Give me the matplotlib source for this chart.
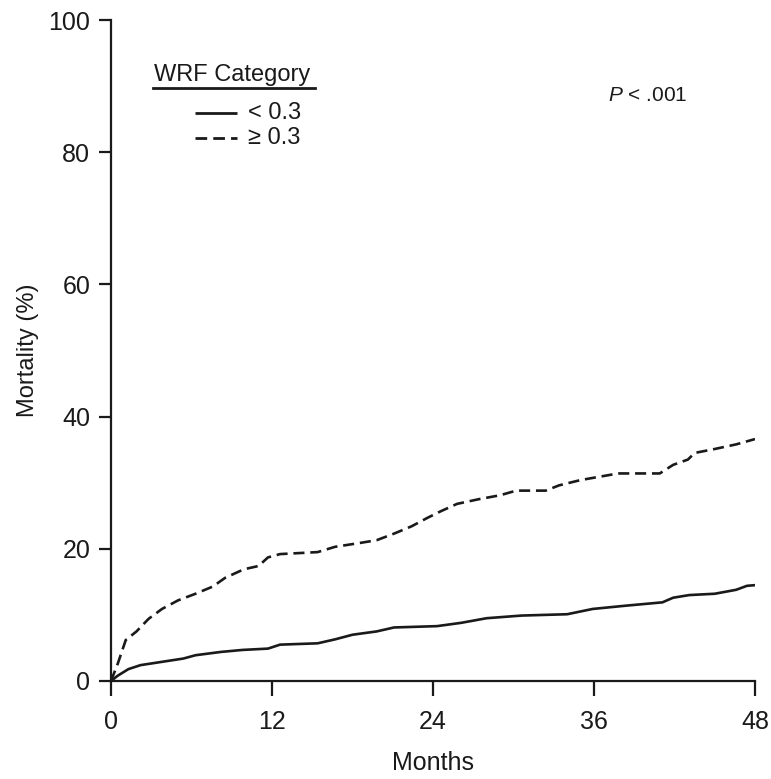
import matplotlib
matplotlib.use("Agg")
import matplotlib.pyplot as plt

plt.rcParams['font.family'] = ['Liberation Sans', 'DejaVu Sans']
plt.rcParams['mathtext.fontset'] = 'custom'
plt.rcParams['mathtext.it'] = 'Liberation Sans:italic'
plt.rcParams['mathtext.rm'] = 'Liberation Sans'

# Data
months_high = [0, 0.5, 1.1, 1.9, 2.8, 3.8, 5.0, 6.3, 7.6, 8.5, 9.9, 11.0, 11.7, 12.6, 15.4,
               16.7, 18.6, 19.8, 21.1, 22.4, 23.6, 24.6, 25.8, 27.4, 29.0, 30.2, 32.4, 33.4,
               35.0, 36.4, 37.8, 40.9, 41.9, 43.0, 43.5, 45.0, 46.6, 48.0]
mort_high = [0, 2.6, 6.2, 7.5, 9.4, 10.9, 12.2, 13.2, 14.3, 15.6, 16.9, 17.4, 18.7, 19.2, 19.5,
             20.3, 20.9, 21.3, 22.3, 23.4, 24.7, 25.7, 26.8, 27.5, 28.1, 28.8, 28.8, 29.6,
             30.4, 30.9, 31.4, 31.4, 32.7, 33.5, 34.5, 35.1, 35.8, 36.6]
months_low = [0, 0.5, 1.3, 2.2, 3.8, 5.4, 6.3, 8.2, 9.8, 11.7, 12.6, 15.4, 16.7, 18.0, 19.8,
              21.1, 24.3, 26.1, 28.0, 30.6, 34.0, 35.9, 38.4, 41.1, 41.9, 43.1, 45.0, 46.6,
              47.4, 48.0]
mort_low = [0, 0.8, 1.8, 2.4, 2.9, 3.4, 3.9, 4.4, 4.7, 4.9, 5.5, 5.7, 6.3, 7.0, 7.5,
            8.1, 8.3, 8.8, 9.5, 9.9, 10.1, 10.9, 11.4, 11.9, 12.6, 13.0, 13.2, 13.8,
            14.4, 14.5]
x_ticks = [0, 12, 24, 36, 48]
y_ticks = [0, 20, 40, 60, 80, 100]
legend_title = "WRF Category"
legend_labels = ["< 0.3", "\u2265 0.3"]

fig = plt.figure(figsize=(7.71, 7.79), dpi=100)
ax = fig.add_axes([111/771, 1-681/779, 644/771, 661/779])

col = '#1a1a1a'
dash = (4.2, 2.2)
ax.plot(months_low, mort_low, color=col, lw=1.9, solid_capstyle='butt')
ax.plot(months_high, mort_high, color=col, lw=1.9, dashes=dash)

ax.set_xlim(0, 48)
ax.set_ylim(0, 100)
ax.set_xticks(x_ticks)
ax.set_yticks(y_ticks)
for s in ['top', 'right']:
    ax.spines[s].set_visible(False)
for s in ['left', 'bottom']:
    ax.spines[s].set_linewidth(1.6)
    ax.spines[s].set_color(col)
ax.tick_params(axis='x', length=11, width=1.6, labelsize=18, colors=col, pad=10)
ax.tick_params(axis='y', length=9, width=1.6, labelsize=18, colors=col, pad=6)
ax.set_xlabel("Months", fontsize=18, color=col, labelpad=12)
ax.set_ylabel("Mortality (%)", fontsize=17, color=col, labelpad=7)

# Legend (manual)
T = ax.transAxes
ax.text(0.0675, 0.907, legend_title, transform=T, fontsize=17, color=col, ha='left', va='baseline')
ax.plot([0.065, 0.317], [0.897, 0.897], transform=T, color=col, lw=2.0, clip_on=False)
ax.plot([0.130, 0.196], [0.860, 0.860], transform=T, color=col, lw=2.0, solid_capstyle='butt')
ax.plot([0.130, 0.196], [0.821, 0.821], transform=T, color=col, lw=2.0, dashes=dash)
ax.text(0.213, 0.860, legend_labels[0], transform=T, fontsize=17, color=col, ha='left', va='center')
ax.text(0.213, 0.821, legend_labels[1], transform=T, fontsize=17, color=col, ha='left', va='center')

ax.text(0.772, 0.886, r'$P$ < .001', transform=T, fontsize=15, color=col, ha='left', va='center')

fig.savefig("out.png", dpi=100)
